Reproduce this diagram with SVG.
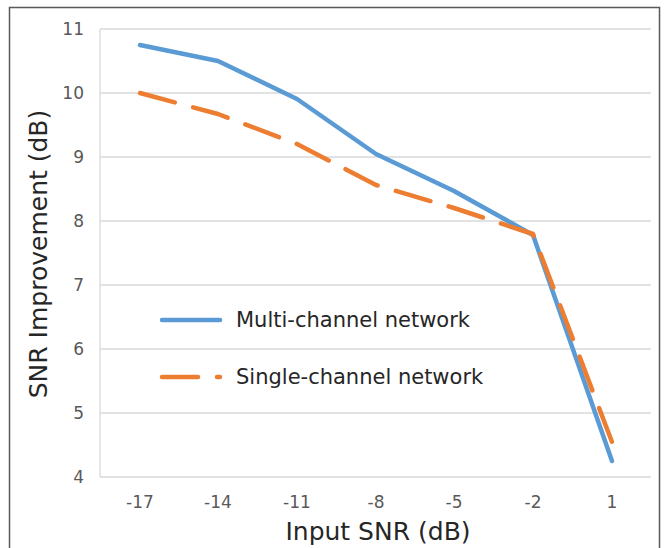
<svg xmlns="http://www.w3.org/2000/svg" width="667" height="548" viewBox="0 0 667 548">
<style>
.grid{stroke:#D9D9D9;stroke-width:1.3;fill:none}
.tick{font-family:"DejaVu Sans",Verdana,sans-serif;font-size:17px;fill:#595959}
.title{font-family:"DejaVu Sans",Verdana,sans-serif;font-size:25px;fill:#262626}
.leg{font-family:"DejaVu Sans",Verdana,sans-serif;font-size:21px;fill:#262626}
.multi{stroke:#5B9BD5;stroke-width:4.5;fill:none;stroke-linejoin:round;stroke-linecap:round}
.single{stroke:#ED7D31;stroke-width:4.5;fill:none;stroke-linejoin:round;stroke-linecap:round;stroke-dasharray:36 19}
</style>
<rect x="0" y="0" width="667" height="548" fill="#ffffff"/>
<rect x="9.5" y="7.5" width="650" height="545" fill="none" stroke="#595959" stroke-width="1.5"/>
<g id="grid">
<line class="grid" x1="100" y1="29" x2="651" y2="29"/>
<line class="grid" x1="100" y1="93" x2="651" y2="93"/>
<line class="grid" x1="100" y1="157" x2="651" y2="157"/>
<line class="grid" x1="100" y1="221" x2="651" y2="221"/>
<line class="grid" x1="100" y1="285" x2="651" y2="285"/>
<line class="grid" x1="100" y1="349" x2="651" y2="349"/>
<line class="grid" x1="100" y1="413" x2="651" y2="413"/>
<line class="grid" x1="100" y1="477" x2="651" y2="477"/>
<line class="grid" x1="100" y1="29" x2="100" y2="477"/>
</g>
<g id="y-ticks" text-anchor="end">
<text class="tick" x="84" y="35">11</text>
<text class="tick" x="84" y="99">10</text>
<text class="tick" x="84" y="163">9</text>
<text class="tick" x="84" y="227">8</text>
<text class="tick" x="84" y="291">7</text>
<text class="tick" x="84" y="355">6</text>
<text class="tick" x="84" y="419">5</text>
<text class="tick" x="84" y="483">4</text>
</g>
<g id="x-ticks" text-anchor="middle">
<text class="tick" x="140" y="508">-17</text>
<text class="tick" x="218" y="508">-14</text>
<text class="tick" x="297" y="508">-11</text>
<text class="tick" x="376" y="508">-8</text>
<text class="tick" x="454" y="508">-5</text>
<text class="tick" x="533" y="508">-2</text>
<text class="tick" x="612" y="508">1</text>
</g>
<text class="title" x="378" y="540" text-anchor="middle">Input SNR (dB)</text>
<text class="title" transform="translate(47,254) rotate(-90)" text-anchor="middle">SNR Improvement (dB)</text>
<g id="series">
<polyline id="multi-channel" class="multi" points="140,45 218,61 297,99 376,154 454,191 533,235 612,461"/>
<polyline id="single-channel" class="single" points="140,93 218,114 297,144 376,185 454,208 533,234 612,442"/>
</g>
<g id="legend">
<line class="multi" x1="162" y1="320" x2="220" y2="320"/>
<text class="leg" x="236" y="327">Multi-channel network</text>
<line class="single" x1="162" y1="377" x2="220" y2="377"/>
<text class="leg" x="236" y="384">Single-channel network</text>
</g>
</svg>
